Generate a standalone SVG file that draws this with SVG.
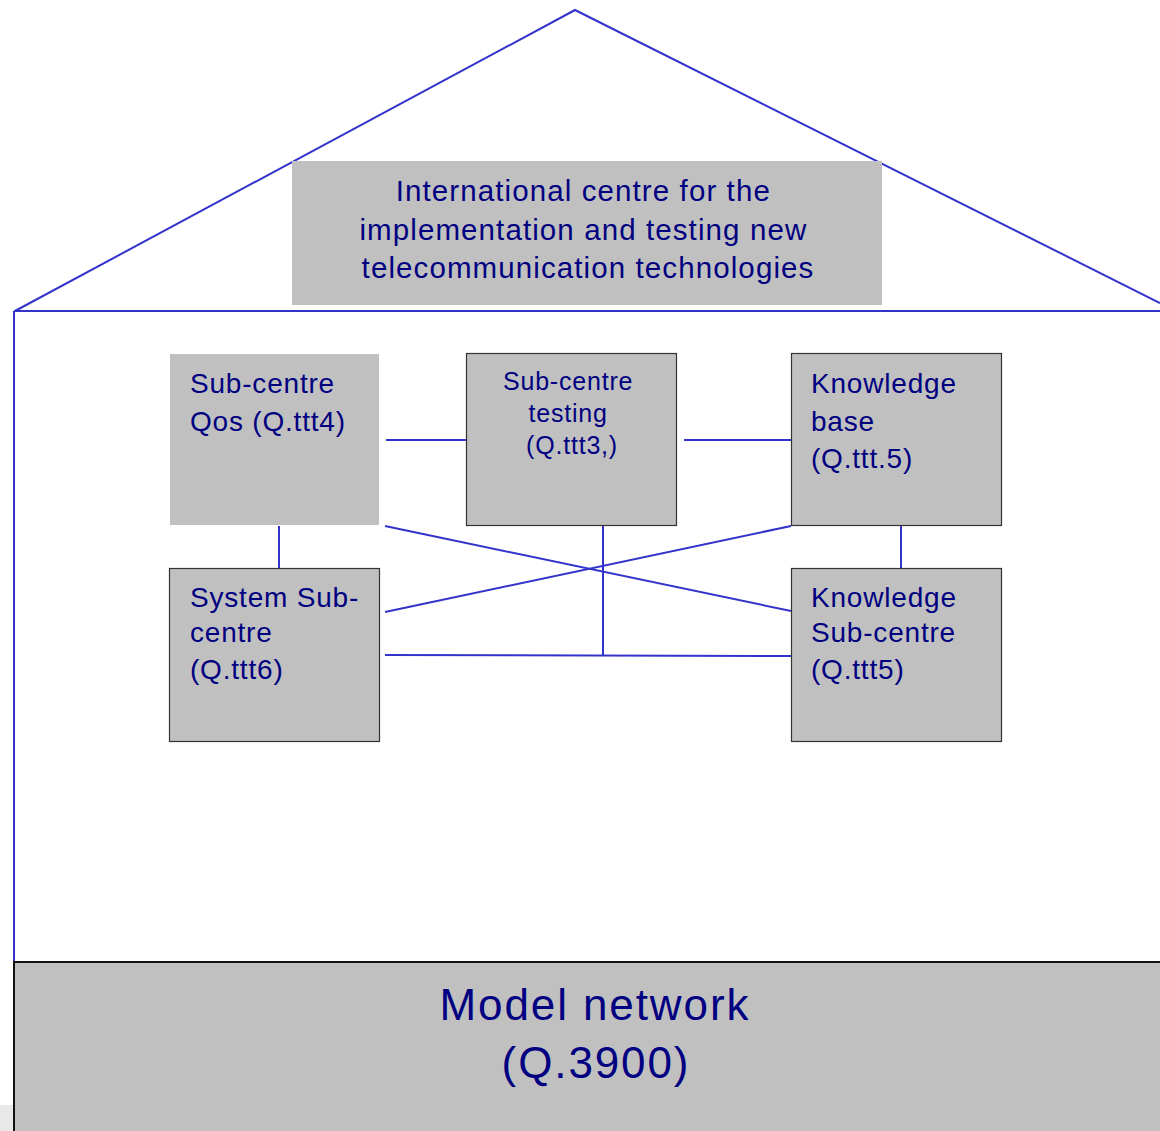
<svg xmlns="http://www.w3.org/2000/svg" width="1160" height="1131" viewBox="0 0 1160 1131">
  <style>
    .ln { stroke: #3333cc; stroke-width: 2; fill: none; }
    .box { fill: #c0c0c0; }
    .edge { fill: #c0c0c0; stroke: #333333; stroke-width: 1.2; }
    .t { font-family: "Liberation Sans", Arial, sans-serif; fill: #000080; }
    .t28 { font-size: 28px; letter-spacing: 0.8px; }
    .tb { font-size: 29.5px; letter-spacing: 1.1px; }
    .t24 { font-size: 25px; letter-spacing: 0.8px; }
    .t44 { font-size: 44px; letter-spacing: 1.9px; }
  </style>
  <rect width="1160" height="1131" fill="#ffffff"/>

  <!-- house outline -->
  <g id="house">
    <polyline class="ln" points="15,311 575,10 1160,303"/>
    <line class="ln" x1="14" y1="311" x2="1160" y2="311"/>
    <line class="ln" x1="14" y1="311" x2="14" y2="962"/>
  </g>

  <!-- roof banner -->
  <g id="banner">
    <rect class="box" x="292" y="161" width="590" height="144"/>
    <text class="t tb" text-anchor="middle">
      <tspan x="588" y="201">International centre for the</tspan>
      <tspan x="588" y="240">implementation and testing new</tspan>
      <tspan x="588" y="278">telecommunication technologies</tspan>
    </text>
  </g>

  <!-- links between sub-centres -->
  <g id="connectors">
    <line class="ln" x1="386" y1="440" x2="466" y2="440"/>
    <line class="ln" x1="684" y1="440" x2="791" y2="440"/>
    <line class="ln" x1="279" y1="526" x2="279" y2="568"/>
    <line class="ln" x1="901" y1="526" x2="901" y2="568"/>
    <line class="ln" x1="603" y1="526" x2="603" y2="656"/>
    <line class="ln" x1="385" y1="655" x2="791" y2="656"/>
    <line class="ln" x1="385" y1="526" x2="791" y2="611"/>
    <line class="ln" x1="385" y1="612" x2="791" y2="526"/>
  </g>

  <g id="qos">
    <rect class="box" x="170" y="354" width="209" height="171"/>
    <text class="t t28">
      <tspan x="190" y="393">Sub-centre</tspan>
      <tspan x="190" y="431">Qos (Q.ttt4)</tspan>
    </text>
  </g>

  <g id="testing">
    <rect class="edge" x="466.5" y="353.5" width="210" height="172"/>
    <text class="t t24" text-anchor="middle">
      <tspan x="572" y="390">Sub-centre</tspan>
      <tspan x="572" y="422">testing</tspan>
      <tspan x="572" y="454">(Q.ttt3,)</tspan>
    </text>
  </g>

  <g id="knowledge-base">
    <rect class="edge" x="791.5" y="353.5" width="210" height="172"/>
    <text class="t t28">
      <tspan x="811" y="393">Knowledge</tspan>
      <tspan x="811" y="431">base</tspan>
      <tspan x="811" y="468">(Q.ttt.5)</tspan>
    </text>
  </g>

  <g id="system-sub-centre">
    <rect class="edge" x="169.5" y="568.5" width="210" height="173"/>
    <text class="t t28">
      <tspan x="190" y="607">System Sub-</tspan>
      <tspan x="190" y="642">centre</tspan>
      <tspan x="190" y="679">(Q.ttt6)</tspan>
    </text>
  </g>

  <g id="knowledge-sub-centre">
    <rect class="edge" x="791.5" y="568.5" width="210" height="173"/>
    <text class="t t28">
      <tspan x="811" y="607">Knowledge</tspan>
      <tspan x="811" y="642">Sub-centre</tspan>
      <tspan x="811" y="679">(Q.ttt5)</tspan>
    </text>
  </g>

  <!-- foundation -->
  <g id="model-network">
    <rect x="0" y="1105" width="14" height="26" fill="#e8e8e8"/>
    <rect x="14" y="962" width="1160" height="180" fill="#c0c0c0" stroke="#111111" stroke-width="2"/>
    <text class="t t44" text-anchor="middle">
      <tspan x="602" y="1020">Model network</tspan>
      <tspan x="596" y="1078">(Q.3900)</tspan>
    </text>
  </g>
</svg>
